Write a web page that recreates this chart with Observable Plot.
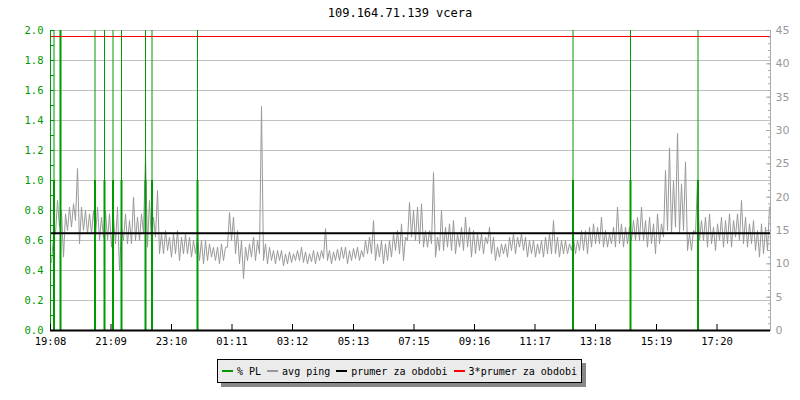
<!DOCTYPE html>
<html>
<head>
<meta charset="utf-8">
<script src="https://cdn.jsdelivr.net/npm/d3@7"></script>
<script src="https://cdn.jsdelivr.net/npm/@observablehq/plot@0.6"></script>
<style>
  body { margin: 0; background: #fff; }
  #wrap { position: relative; width: 800px; height: 400px; overflow: hidden; background: #fff; }
  #wrap svg { position: absolute; left: 0; top: 0; }
  #title { position: absolute; top: 6px; left: 0; width: 800px; text-align: center;
           font: 12px "DejaVu Sans Mono", monospace; color: #000; }
  #legend { position: absolute; left: 217px; top: 359px; width: 365px; height: 24px; box-sizing: border-box;
            border: 1px solid #000; background: #ebebeb; box-shadow: 4px 4px 0 #888;
            font: 10px "DejaVu Sans Mono", monospace; color: #000; display: flex; align-items: center;
            padding-left: 4px; white-space: pre; }
  .it { display: inline-flex; align-items: center; margin-right: 6px; }
  .sw { display: inline-block; width: 11px; height: 2px; margin-right: 4px; }
</style>
</head>
<body>
<div id="wrap">
  <div id="title"></div>
  <div id="legend"></div>
</div>
<script>
// ---------------- data ----------------
const titleText = "109.164.71.139 vcera";

// x axis: minutes since 19:08 (24 h window)
const tickMinutes = [0, 121, 242, 363, 484, 606, 727, 848, 969, 1090, 1212, 1333];
const tickLabels  = ["19:08", "21:09", "23:10", "01:11", "03:12", "05:13", "07:15", "09:16", "11:17", "13:18", "15:19", "17:20"];

// left axis (% PL) and right axis (ping ms) tick values
const leftTicks  = [0, 0.2, 0.4, 0.6, 0.8, 1.0, 1.2, 1.4, 1.6, 1.8, 2.0];
const rightTicks = [0, 5, 10, 15, 20, 25, 30, 35, 40, 45];

// avg ping, read per 8-minute bin: low and high value (ms)
const pingLow = [
  10.2,14.5,15.5,11.0,15.0,15.5,16.5,13.0,15.0,14.5,
  14.5,14.0,13.5,14.0,13.5,12.5,13.0, 9.0,13.5,13.0,
  13.0,13.5,13.5,14.5,12.5,13.0,14.0,11.5,11.5,12.0,
  11.0,11.5,10.5,11.5,11.5,11.0,11.5,10.5,10.0,10.5,
  11.0,10.5,10.0,10.5,12.5,13.5,11.5,10.0, 7.8,10.5,
  11.0,10.5,11.5,10.5,10.0,10.5,10.0,10.5, 9.7,10.0,
  10.2,10.5,10.5,10.2,10.0,10.3,10.0,10.5,10.8,10.5,
  10.0,10.5,10.5,10.8,10.0,10.5,10.8,10.5,11.0,11.5,
  11.5,10.5,11.0,10.0,10.5,11.0,12.0,11.5,10.5,13.5,
  14.0,13.5,13.0,12.5,12.5,13.0,11.0,12.0,12.0,12.5,
  12.0,11.5,12.5,12.0,12.5,11.0,11.5,12.0,11.5,13.0,
  11.5,10.5,11.0,11.5,11.0,12.0,11.5,12.5,12.0,11.0,
  11.5,11.0,11.5,11.0,11.5,11.5,11.5,11.0,11.5,11.5,
  12.0,11.5,12.0,12.0,11.5,12.5,13.0,13.0,12.5,12.5,
  13.0,12.5,13.0,12.5,13.0,13.5,13.5,13.5,13.5,12.5,
  13.0,11.5,13.0,14.0,15.0,14.5,15.5,14.5,15.0,12.0,
  12.0,14.5,13.5,13.5,12.5,13.0,12.0,13.5,12.5,13.0,
  12.5,14.0,13.5,13.0,12.5,13.0,12.0,11.0,11.5,12.0
];
const pingHigh = [
  14.0,19.5,18.0,17.5,18.5,19.0,24.3,18.5,18.0,17.5,
  18.0,18.5,17.0,18.0,17.5,17.0,18.5,15.5,17.5,16.5,
  20.0,17.0,17.5,26.5,19.5,17.0,21.0,14.5,15.0,14.0,
  14.5,15.0,14.0,14.5,14.0,13.5,14.0,13.5,13.5,13.0,
  12.5,12.5,13.0,12.5,17.7,17.0,15.0,13.5,12.5,13.0,
  14.0,13.5,33.6,13.0,12.5,12.0,12.0,12.0,11.5,11.8,
  11.5,12.0,12.5,11.8,11.5,12.0,11.8,12.0,15.3,12.0,
  11.8,12.2,12.5,12.5,12.0,12.3,12.5,12.0,13.5,14.0,
  16.5,13.0,13.5,13.0,13.5,14.5,15.0,16.0,14.0,19.2,
  18.0,18.5,19.0,15.0,15.0,23.7,14.0,18.0,15.5,16.0,
  16.5,14.5,15.5,17.0,15.5,15.0,14.5,14.5,14.0,15.5,
  14.0,12.5,13.0,13.0,14.0,14.5,14.0,14.5,14.0,13.5,
  13.5,13.0,13.5,14.0,14.5,16.5,14.0,13.5,13.5,13.0,
  14.0,13.5,15.0,15.0,15.5,16.0,15.5,17.0,15.0,14.5,
  15.5,18.5,16.0,15.5,15.5,16.5,17.0,18.5,16.5,17.0,
  16.0,17.5,16.0,24.0,27.4,22.5,29.6,22.0,25.3,14.5,
  15.0,22.6,16.5,17.0,17.5,15.5,16.0,17.0,16.5,17.5,
  16.5,17.5,19.5,17.0,16.0,16.5,15.0,16.0,15.5,18.5
];
const binMinutes = 8;

// packet loss events (minutes since start, % PL)
const plMinutes = [7, 20, 89, 108, 125, 142, 190, 203, 294, 1045, 1160, 1295];
const plValues  = [1, 2, 1, 1, 1, 1, 1, 1, 1, 1, 1, 1];

const avgPing = 14.6;     // prumer za obdobi (ms)
const tripleAvg = 44.1;   // 3*prumer za obdobi (ms)

const msPerUnit = 22.5;   // right axis 45 ms == left axis 2.0

const legendItems = [
  {label: "% PL", color: "#009900"},
  {label: "avg ping", color: "#999999"},
  {label: "prumer za obdobi", color: "#000000"},
  {label: "3*prumer za obdobi", color: "#ff0000"}
];

// ---------------- build ----------------
const GREEN = "#009900", GREY = "#999999";

const ping = [];
pingLow.forEach((lo, i) => {
  ping.push({t: i * binMinutes + 2, v: lo / msPerUnit});
  ping.push({t: i * binMinutes + 6, v: pingHigh[i] / msPerUnit});
});
const pl = plMinutes.map((t, i) => ({t, v: plValues[i]}));

const leftMinor = d3.range(0, 21).map(k => k / 10);
const rightMajor = rightTicks.map(v => v / msPerUnit);
const rightMinor = d3.range(0, 46).map(v => v / msPerUnit);

const chart = Plot.plot({
  width: 800, height: 355,
  marginLeft: 50, marginRight: 30, marginTop: 30, marginBottom: 25,
  x: {domain: [0, 1440], label: null},
  y: {domain: [0, 2], label: null},
  style: {fontFamily: '"DejaVu Sans Mono", monospace', fontSize: "10px", background: "transparent", overflow: "visible"},
  marks: [
    Plot.ruleY(leftTicks.filter(d => d > 0), {stroke: "#c0c0c0", strokeWidth: 1}),
    Plot.line(ping, {x: "t", y: "v", stroke: GREY, strokeWidth: 1}),
    Plot.ruleX(pl, {x: "t", y1: 0, y2: 2, stroke: GREEN, strokeWidth: 1}),
    Plot.ruleX(pl, {x: "t", y1: 0, y2: d => Math.min(d.v, 2), stroke: GREEN, strokeWidth: 2}),
    Plot.ruleY([avgPing / msPerUnit], {stroke: "#000", strokeWidth: 2}),
    Plot.ruleY([tripleAvg / msPerUnit], {stroke: "#ff0000", strokeWidth: 1}),
    // left axis
    Plot.ruleX([0], {stroke: GREEN, strokeWidth: 1}),
    Plot.axisY(leftMinor, {anchor: "left", tickSize: -4, tickFormat: () => "", color: GREEN}),
    Plot.axisY(leftTicks, {anchor: "left", tickSize: 0, tickPadding: 7, tickFormat: d => d.toFixed(1),
      color: GREEN, fontSize: 10.5, fontFamily: '"DejaVu Sans Mono", monospace'}),
    // right axis
    Plot.ruleX([1440], {stroke: "#aaaaaa", strokeWidth: 1}),
    Plot.axisY(rightMinor, {anchor: "right", tickSize: -3, tickFormat: () => "", color: "#aaaaaa"}),
    Plot.axisY(rightMajor, {anchor: "right", tickSize: -5, tickFormat: () => "", color: "#aaaaaa"}),
    Plot.axisY(rightMajor, {anchor: "right", tickSize: 0, tickPadding: 5, tickFormat: d => String(Math.round(d * msPerUnit)),
      color: "#999999", fontSize: 11, fontFamily: '"DejaVu Sans", sans-serif'}),
    // bottom axis
    Plot.ruleY([0], {stroke: "#000", strokeWidth: 2}),
    Plot.axisX(tickMinutes, {anchor: "bottom", tickSize: -6, tickFormat: () => "", color: "#000"}),
    Plot.axisX(tickMinutes, {anchor: "bottom", tickSize: 0, tickPadding: 7,
      tickFormat: d => tickLabels[tickMinutes.indexOf(d)], color: "#000", fontSize: 10.5,
      fontFamily: '"DejaVu Sans Mono", monospace'})
  ]
});

const wrap = document.getElementById("wrap");
wrap.insertBefore(chart, wrap.firstChild);
document.getElementById("title").textContent = titleText;

const legend = document.getElementById("legend");
legendItems.forEach(it => {
  const s = document.createElement("span"); s.className = "it";
  const sw = document.createElement("span"); sw.className = "sw"; sw.style.background = it.color;
  const tx = document.createElement("span"); tx.textContent = it.label;
  s.appendChild(sw); s.appendChild(tx); legend.appendChild(s);
});
</script>
</body>
</html>
